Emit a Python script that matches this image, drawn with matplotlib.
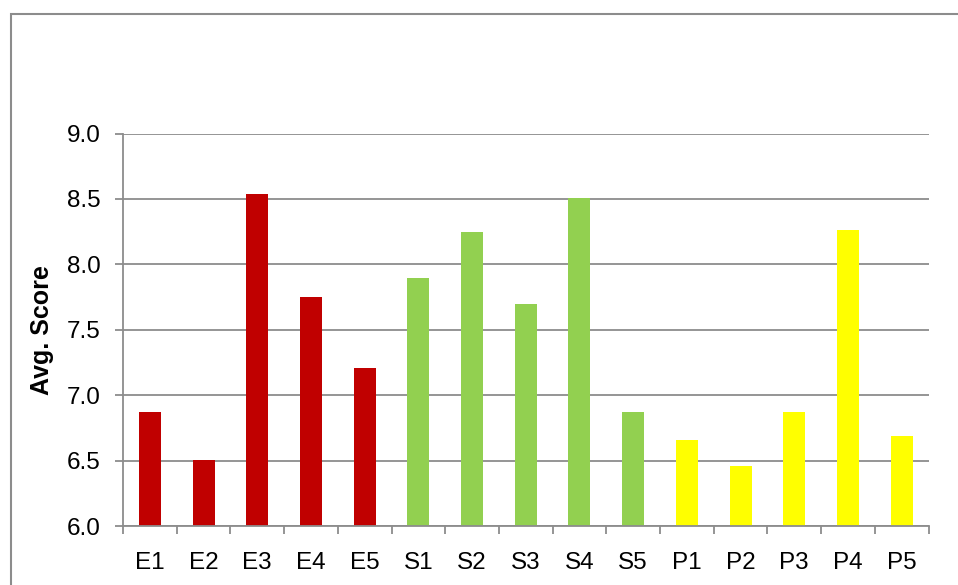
import matplotlib
matplotlib.use("Agg")
import matplotlib.pyplot as plt
from matplotlib.patches import Rectangle

categories = ["E1", "E2", "E3", "E4", "E5", "S1", "S2", "S3", "S4", "S5",
              "P1", "P2", "P3", "P4", "P5"]
values = [6.87, 6.51, 8.54, 7.75, 7.21, 7.90, 8.25, 7.70, 8.51, 6.87,
          6.66, 6.46, 6.87, 8.26, 6.69]
group_colors = ["#C00000"] * 5 + ["#92D050"] * 5 + ["#FFFF00"] * 5
y_ticks = [6.0, 6.5, 7.0, 7.5, 8.0, 8.5, 9.0]

plt.rcParams['font.family'] = ['Liberation Sans', 'DejaVu Sans']

W, H = 958, 585
fig = plt.figure(figsize=(W / 100, H / 100), dpi=100)
fig.patch.set_facecolor("white")

# outer chart border (extends past the image edges)
fig.add_artist(Rectangle((11 / W, 0 - 0.05), 1.2, (H - 14) / H + 0.05,
                         transform=fig.transFigure, fill=False,
                         edgecolor="#8c8c8c", linewidth=1.5))

left, right, top, bottom = 123, 928.5, 133.5, 526.3
ax = fig.add_axes([left / W, 1 - bottom / H, (right - left) / W, (bottom - top) / H])

x = list(range(len(categories)))
ax.bar(x, values, width=0.41, color=group_colors, zorder=3, bottom=0)

ax.set_xlim(-0.5, len(categories) - 0.5)
ax.set_ylim(6.0, 9.0)
ax.set_yticks(y_ticks)
ax.set_yticklabels([f"{v:.1f}" for v in y_ticks])
ax.set_xticks(x)
ax.set_xticklabels(categories)
ax.set_xticks([i - 0.5 for i in range(len(categories) + 1)], minor=True)

ax.yaxis.grid(True, color="#8c8c8c", linewidth=1.3, zorder=0)
ax.set_axisbelow(True)

for s in ["top", "right"]:
    ax.spines[s].set_visible(False)
for s in ["left", "bottom"]:
    ax.spines[s].set_color("#8c8c8c")
    ax.spines[s].set_linewidth(1.3)
    ax.spines[s].set_zorder(4)

ax.tick_params(axis="x", which="major", length=0, pad=18.5, labelsize=17.5, colors="black")
ax.tick_params(axis="x", which="minor", length=5.5, width=1.3, color="#8c8c8c", direction="out")
ax.tick_params(axis="y", which="major", length=6, width=1.3, color="#8c8c8c", pad=10,
               labelsize=17.5, labelcolor="black", direction="out")

fig.text(42 / W, 1 - 330 / H, "Avg. Score", rotation=90, ha="center", va="center",
         fontsize=18, fontweight="bold")

fig.savefig("out.png", dpi=100, facecolor="white")
